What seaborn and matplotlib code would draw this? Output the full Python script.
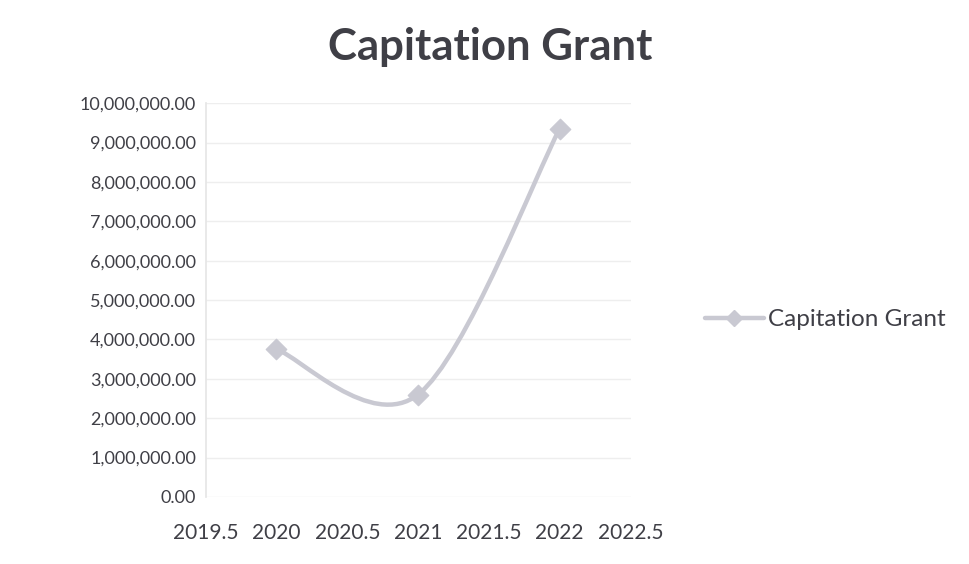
import numpy as np
import matplotlib
matplotlib.use("Agg")
import matplotlib.pyplot as plt
from matplotlib.path import Path
from matplotlib.patches import PathPatch
from matplotlib.lines import Line2D
from matplotlib.ticker import FuncFormatter, MultipleLocator
import seaborn as sns

# Capitation grant received per year
years = [2020, 2021, 2022]
amounts = [3750000, 2600000, 9350000]
series_name = "Capitation Grant"
title = "Capitation Grant"

sns.set_theme(style="white")
plt.rcParams["font.family"] = ["Lato", "DejaVu Sans"]

line_color = "#c9c9d2"
text_color = "#3f3f46"

fig = plt.figure(figsize=(9.7, 5.64), dpi=100)
ax = fig.add_axes([0.212, 0.119, 0.438, 0.698])

# Smoothed connecting line (Bezier segments, Excel-style smoothing)
xs = np.array(years, dtype=float)
ys = np.array(amounts, dtype=float)
pts = np.column_stack([xs, ys])
n = len(pts)
verts = [tuple(pts[0])]
codes = [Path.MOVETO]
for i in range(n - 1):
    p0 = pts[i - 1] if i > 0 else pts[i]
    p1 = pts[i]
    p2 = pts[i + 1]
    p3 = pts[i + 2] if i + 2 < n else pts[i + 1]
    c1 = p1 + (p2 - p0) / 6.0
    c2 = p2 - (p3 - p1) / 6.0
    verts += [tuple(c1), tuple(c2), tuple(p2)]
    codes += [Path.CURVE4] * 3
ax.add_patch(PathPatch(Path(verts, codes), facecolor="none",
                       edgecolor=line_color, lw=3.2, capstyle="round", zorder=2))

sns.scatterplot(x=years, y=amounts, marker="D", s=110, color=line_color,
                edgecolor=line_color, ax=ax, zorder=3, legend=False)

ax.set_xlim(2019.5, 2022.5)
ax.set_ylim(0, 10000000)
ax.xaxis.set_major_locator(MultipleLocator(0.5))
ax.yaxis.set_major_locator(MultipleLocator(1000000))
ax.xaxis.set_major_formatter(FuncFormatter(lambda v, p: f"{v:g}"))
ax.yaxis.set_major_formatter(FuncFormatter(lambda v, p: f"{v:,.2f}"))

ax.grid(axis="y", color="#eeeeee", lw=1.0)
ax.grid(axis="x", visible=False)
for s in ["top", "right", "bottom"]:
    ax.spines[s].set_visible(False)
ax.spines["left"].set_color("#e6e6e6")
ax.tick_params(axis="y", length=0, labelsize=13, colors=text_color, pad=7)
ax.tick_params(axis="x", length=0, labelsize=15, colors=text_color, pad=19)
ax.set_xlabel("")
ax.set_ylabel("")

fig.text(0.505, 0.917, title, ha="center", va="center", fontsize=31.5,
         fontweight="bold", color=text_color)

handle = Line2D([], [], color=line_color, lw=3.2, marker="D", markersize=8,
                markerfacecolor=line_color, markeredgecolor=line_color)
fig.legend([handle], [series_name], loc="center left",
           bbox_to_anchor=(0.727, 0.433), frameon=False, fontsize=17.5,
           handlelength=2.4, handletextpad=0.2, borderpad=0, borderaxespad=0,
           labelcolor=text_color)

fig.savefig("out.png", dpi=100, facecolor="white")
